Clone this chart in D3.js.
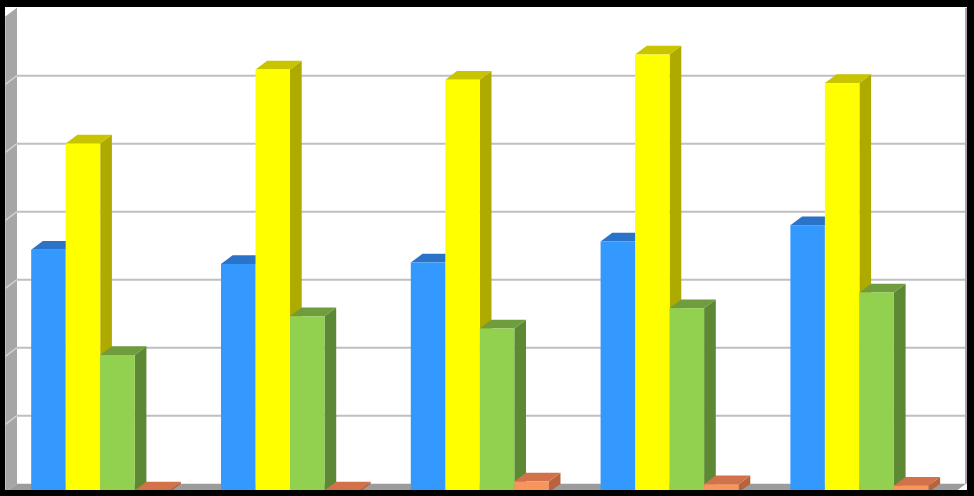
<!DOCTYPE html>
<html>
  <head>
    <meta charset="utf-8" />
    <title>3D Column Chart</title>
    <script src="https://d3js.org/d3.v7.min.js"></script>
    <style>
      body { margin: 0; background: #fff; }
      svg { display: block; }
    </style>
  </head>
  <body>
    <script>
      // data (units = gridline steps)
      const categories = ['1', '2', '3', '4', '5'];
      const seriesNames = ['Series 1', 'Series 2', 'Series 3', 'Series 4'];
      const series1 = [3.57, 3.36, 3.38, 3.69, 3.93];
      const series2 = [5.13, 6.22, 6.07, 6.44, 6.02];
      const series3 = [2.02, 2.59, 2.41, 2.71, 2.94];
      const series4 = [0.03, 0.03, 0.16, 0.12, 0.1];
      const yTicks = [0, 1, 2, 3, 4, 5, 6, 7];

      const allSeries = [series1, series2, series3, series4];
      const colors = [
        { front: '#3399ff', top: '#2a73c9', side: '#2565ad' },
        { front: '#ffff00', top: '#c9c400', side: '#aeaa00' },
        { front: '#92d050', top: '#6f9d3d', side: '#5e8934' },
        { front: '#f8955f', top: '#d1724a', side: '#b9633d' },
      ];

      const W = 974, H = 496;
      const dx = 11.7, dy = 8.7; // depth offset
      const frontLeft = 5.3, frontRight = 954.3, frontBottom = 492.4;

      const svg = d3.select('body').append('svg').attr('width', W).attr('height', H);

      const x = d3.scaleBand().domain(categories).range([frontLeft, frontRight]).paddingInner(0);
      const xs = d3
        .scaleBand()
        .domain(seriesNames)
        .range([0, x.bandwidth()])
        .paddingInner(0)
        .paddingOuter(0.75);
      const y = d3
        .scaleLinear()
        .domain([0, 7])
        .range([frontBottom, frontBottom - 7 * 68]);

      const backTop = y(7) - dy, backBottom = y(0) - dy;

      // back wall
      svg
        .append('rect')
        .attr('x', frontLeft + dx)
        .attr('y', backTop)
        .attr('width', frontRight - frontLeft)
        .attr('height', backBottom - backTop)
        .attr('fill', '#ffffff');

      // gridlines on back wall
      svg
        .append('g')
        .selectAll('line')
        .data(yTicks.slice(1, -1))
        .join('line')
        .attr('x1', frontLeft + dx)
        .attr('x2', frontRight + dx)
        .attr('y1', (d) => y(d) - dy)
        .attr('y2', (d) => y(d) - dy)
        .attr('stroke', '#bfbfbf')
        .attr('stroke-width', 2);

      // right edge of back wall
      svg
        .append('line')
        .attr('x1', frontRight + dx)
        .attr('x2', frontRight + dx)
        .attr('y1', backTop)
        .attr('y2', backBottom)
        .attr('stroke', '#a6a6a6')
        .attr('stroke-width', 2);

      // left wall
      svg
        .append('polygon')
        .attr(
          'points',
          [
            [frontLeft, y(7)],
            [frontLeft + dx, backTop],
            [frontLeft + dx, backBottom],
            [frontLeft, y(0)],
          ].join(' ')
        )
        .attr('fill', '#a6a6a6');

      svg
        .append('g')
        .selectAll('line')
        .data(yTicks.slice(1, -1))
        .join('line')
        .attr('x1', frontLeft)
        .attr('x2', frontLeft + dx)
        .attr('y1', (d) => y(d))
        .attr('y2', (d) => y(d) - dy)
        .attr('stroke', '#d0d0d0')
        .attr('stroke-width', 1.5);

      // floor
      svg
        .append('polygon')
        .attr(
          'points',
          [
            [frontLeft, y(0)],
            [frontLeft + dx, backBottom],
            [frontRight + dx, backBottom],
            [frontRight, y(0)],
          ].join(' ')
        )
        .attr('fill', '#9c9c9c');

      // bars, left to right
      const bars = [];
      categories.forEach((c, i) => {
        allSeries.forEach((s, j) => {
          bars.push({ cat: c, name: seriesNames[j], value: s[i], col: colors[j] });
        });
      });

      const g = svg.append('g');
      bars.forEach((d) => {
        const x0 = x(d.cat) + xs(d.name);
        const x1 = x0 + xs.bandwidth();
        const yt = y(d.value);
        const yb = y(0);
        const bar = g.append('g');
        bar
          .append('polygon')
          .attr('points', [[x1, yt], [x1 + dx, yt - dy], [x1 + dx, yb - dy], [x1, yb]].join(' '))
          .attr('fill', d.col.side);
        bar
          .append('polygon')
          .attr('points', [[x0, yt], [x0 + dx, yt - dy], [x1 + dx, yt - dy], [x1, yt]].join(' '))
          .attr('fill', d.col.top);
        bar
          .append('rect')
          .attr('x', x0)
          .attr('y', yt)
          .attr('width', x1 - x0)
          .attr('height', yb - yt)
          .attr('fill', d.col.front);
      });

      // black frame
      const frame = svg.append('g').attr('fill', '#000');
      frame.append('rect').attr('x', 0).attr('y', 0).attr('width', W).attr('height', 7);
      frame.append('rect').attr('x', 0).attr('y', 490).attr('width', W).attr('height', H - 490);
      frame.append('rect').attr('x', 0).attr('y', 0).attr('width', 5).attr('height', H);
      frame.append('rect').attr('x', 967).attr('y', 0).attr('width', W - 967).attr('height', H);
    </script>
  </body>
</html>
